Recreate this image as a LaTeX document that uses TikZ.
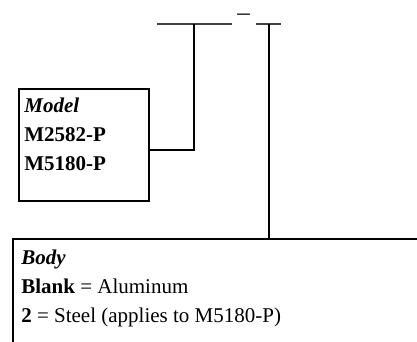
\documentclass[tikz,border=0pt]{standalone}
\usepackage{fontspec}
\setmainfont{Liberation Serif}
\begin{document}
\begin{tikzpicture}[x=0.6pt,y=-0.6pt,
  boxline/.style={draw=black,line width=1.2pt},
  fieldline/.style={draw=black!75,line width=0.9pt},
  conn/.style={draw=black,line width=1.2pt},
  txt/.style={inner sep=0pt,anchor=base west,font=\fontsize{12.6}{14}\selectfont}]
\useasboundingbox (0,0) rectangle (417,341);
% fields
\coordinate (l1a) at (157,24);
\coordinate (l1b) at (232,24);
\coordinate (l2a) at (256,24);
\coordinate (l2b) at (281,24);
\coordinate (f1) at (194,24);
\coordinate (f2) at (269,24);
\draw[fieldline] (l1a) -- (l1b);
\draw[fieldline] (l2a) -- (l2b);
\node[txt,font=\fontsize{15}{17}\selectfont] (dash) at (237,20) {–};
% model box
\node[boxline,rectangle,minimum width=78pt,minimum height=67.2pt,inner sep=0pt,anchor=north west] (model) at (18,88) {};
\node[txt] (m1) at (24,112) {\textbf{\textit{Model}}};
\node[txt] (m2) at (24,141) {\textbf{M2582-P}};
\node[txt] (m3) at (24,170) {\textbf{M5180-P}};
% body box
\node[boxline,rectangle,minimum width=270pt,minimum height=80pt,inner sep=0pt,anchor=north west] (body) at (12,238) {};
\node[txt] (b1) at (21,264) {\textbf{\textit{Body}}};
\node[txt] (b2) at (21,293) {\textbf{Blank} = Aluminum};
\node[txt] (b3) at (21,322) {\textbf{2} = Steel (applies to M5180-P)};
% connectors
\draw[conn] (f1) |- ([yshift=-3pt]model.east);
\draw[conn] (f2) -- (body.north -| f2);
\end{tikzpicture}
\end{document}
